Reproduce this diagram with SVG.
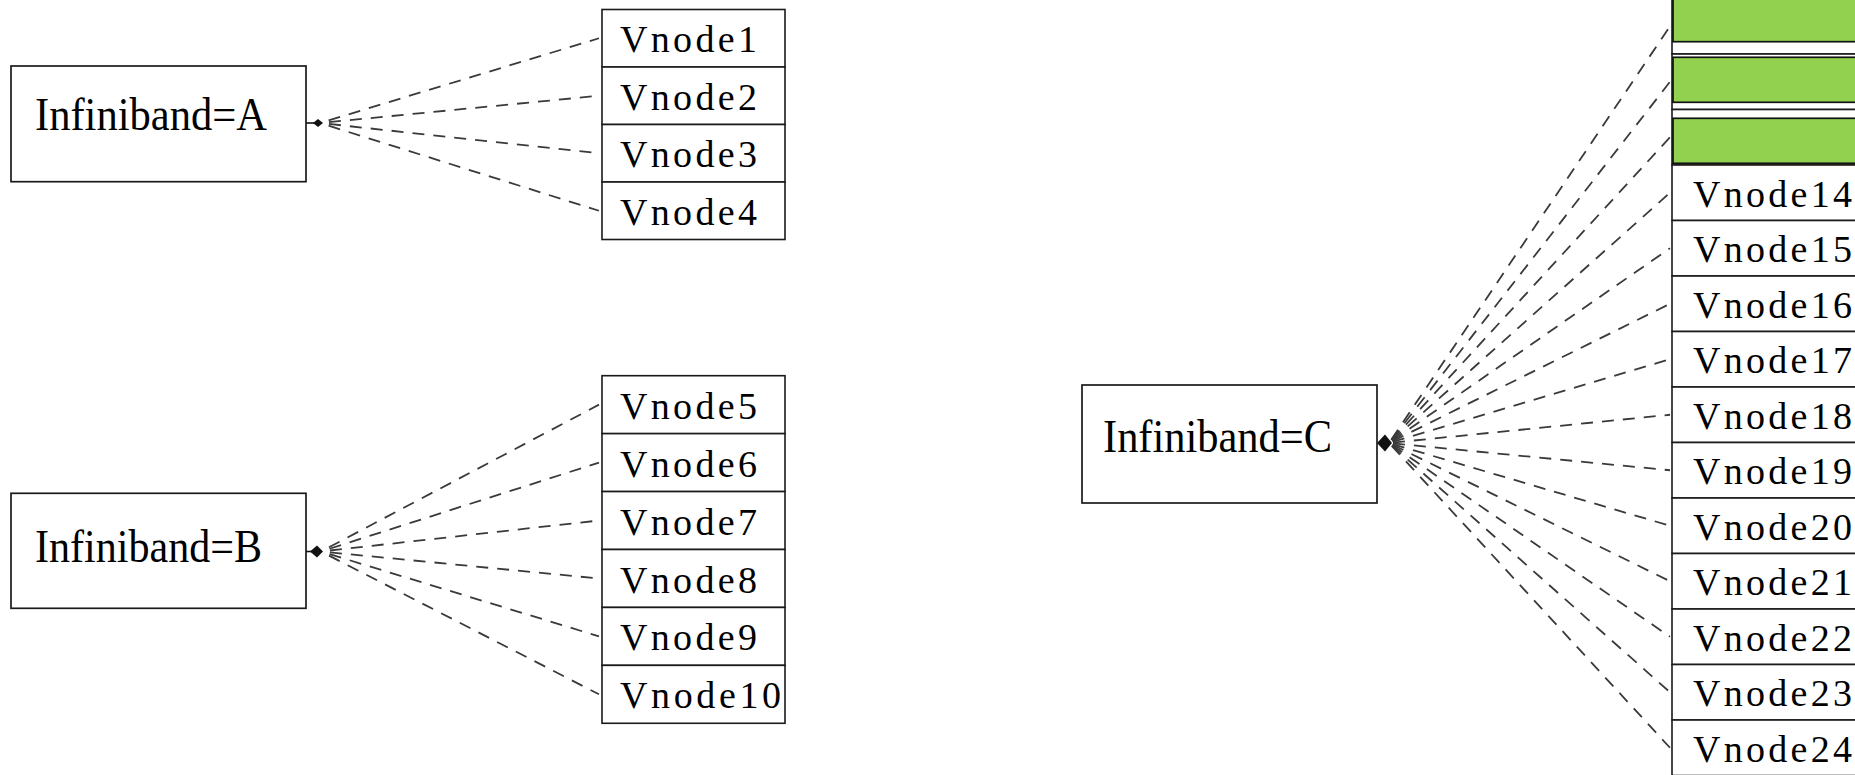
<svg xmlns="http://www.w3.org/2000/svg" width="1855" height="775" viewBox="0 0 1855 775">
<style>
.box{fill:#fff;stroke:#1a1a1a;stroke-width:1.7}
.cell{fill:#fff;stroke:#1a1a1a;stroke-width:1.6}
.green{fill:#92d050;stroke:#111;stroke-width:1.7}
.ib{font-family:"Liberation Serif","Times New Roman",serif;font-size:46px;fill:#000}
.vn{font-family:"Liberation Serif","Times New Roman",serif;font-size:38px;fill:#000}
.edge{fill:none;stroke:#3a3a3a;stroke-width:1.8;stroke-dasharray:12 9;stroke-dashoffset:12}
.edgec{fill:none;stroke:#3a3a3a;stroke-width:1.8;stroke-dasharray:12 9;stroke-dashoffset:17}
.tail{fill:none;stroke:#111;stroke-width:1.6}
.blob{fill:#111;stroke:none}
</style>
<rect width="1855" height="775" fill="#fff"/>

<g id="connectors">
  <g id="edges-A">
    <line class="tail" x1="306" y1="123" x2="315" y2="123"/>
    <polygon class="blob" points="313,123 318,119 323,123 318,127"/>
    <line class="edge" x1="320" y1="123" x2="599" y2="38.25"/>
    <line class="edge" x1="320" y1="123" x2="599" y2="95.75"/>
    <line class="edge" x1="320" y1="123" x2="599" y2="153.25"/>
    <line class="edge" x1="320" y1="123" x2="599" y2="210.75"/>
  </g>
  <g id="edges-B">
    <line class="tail" x1="306" y1="551.5" x2="312" y2="551.5"/>
    <polygon class="blob" points="310,551.5 317,545.5 323,551.5 317,557.5"/>
    <line class="edge" x1="321" y1="551.5" x2="599" y2="404.67"/>
    <line class="edge" x1="321" y1="551.5" x2="599" y2="462.6"/>
    <line class="edge" x1="321" y1="551.5" x2="599" y2="520.5"/>
    <line class="edge" x1="321" y1="551.5" x2="599" y2="578.5"/>
    <line class="edge" x1="321" y1="551.5" x2="599" y2="636.4"/>
    <line class="edge" x1="321" y1="551.5" x2="599" y2="694.3"/>
  </g>
  <g id="edges-C">
    <polygon class="blob" points="1377,443 1385,434.5 1392,443 1385,451.5"/>
    <line class="edgec" x1="1389" y1="443" x2="1670" y2="26.25"/>
    <line class="edgec" x1="1389" y1="443" x2="1670" y2="81.75"/>
    <line class="edgec" x1="1389" y1="443" x2="1670" y2="137.25"/>
    <line class="edgec" x1="1389" y1="443" x2="1670" y2="192.75"/>
    <line class="edgec" x1="1389" y1="443" x2="1670" y2="248.25"/>
    <line class="edgec" x1="1389" y1="443" x2="1670" y2="303.75"/>
    <line class="edgec" x1="1389" y1="443" x2="1670" y2="359.25"/>
    <line class="edgec" x1="1389" y1="443" x2="1670" y2="414.75"/>
    <line class="edgec" x1="1389" y1="443" x2="1670" y2="470.25"/>
    <line class="edgec" x1="1389" y1="443" x2="1670" y2="525.75"/>
    <line class="edgec" x1="1389" y1="443" x2="1670" y2="581.25"/>
    <line class="edgec" x1="1389" y1="443" x2="1670" y2="636.75"/>
    <line class="edgec" x1="1389" y1="443" x2="1670" y2="692.25"/>
    <line class="edgec" x1="1389" y1="443" x2="1670" y2="747.75"/>
  </g>
</g>

<g id="infiniband-A">
  <rect class="box" x="11" y="66" width="295" height="115.7"/>
  <text class="ib" x="35" y="130" textLength="232" lengthAdjust="spacingAndGlyphs">Infiniband=A</text>
</g>
<g id="infiniband-B">
  <rect class="box" x="11" y="493.3" width="295" height="115"/>
  <text class="ib" x="35" y="561.5" textLength="227" lengthAdjust="spacingAndGlyphs">Infiniband=B</text>
</g>
<g id="infiniband-C">
  <rect class="box" x="1082" y="385" width="295" height="118"/>
  <text class="ib" x="1103" y="451.5" textLength="229" lengthAdjust="spacingAndGlyphs">Infiniband=C</text>
</g>

<g id="vnode1"><rect class="cell" x="602" y="9.5" width="183" height="57.5"/><text class="vn" x="620" y="52.25" textLength="137">Vnode1</text></g>
<g id="vnode2"><rect class="cell" x="602" y="67" width="183" height="57.5"/><text class="vn" x="620" y="109.75" textLength="137">Vnode2</text></g>
<g id="vnode3"><rect class="cell" x="602" y="124.5" width="183" height="57.5"/><text class="vn" x="620" y="167.25" textLength="137">Vnode3</text></g>
<g id="vnode4"><rect class="cell" x="602" y="182" width="183" height="57.5"/><text class="vn" x="620" y="224.75" textLength="137">Vnode4</text></g>

<g id="vnode5"><rect class="cell" x="602" y="375.7" width="183" height="57.93"/><text class="vn" x="620" y="418.67" textLength="137">Vnode5</text></g>
<g id="vnode6"><rect class="cell" x="602" y="433.63" width="183" height="57.93"/><text class="vn" x="620" y="476.6" textLength="137">Vnode6</text></g>
<g id="vnode7"><rect class="cell" x="602" y="491.56" width="183" height="57.93"/><text class="vn" x="620" y="534.5" textLength="137">Vnode7</text></g>
<g id="vnode8"><rect class="cell" x="602" y="549.49" width="183" height="57.93"/><text class="vn" x="620" y="592.5" textLength="137">Vnode8</text></g>
<g id="vnode9"><rect class="cell" x="602" y="607.42" width="183" height="57.93"/><text class="vn" x="620" y="650.4" textLength="137">Vnode9</text></g>
<g id="vnode10"><rect class="cell" x="602" y="665.35" width="183" height="57.93"/><text class="vn" x="620" y="708.3" textLength="161">Vnode10</text></g>

<g id="vnode11"><rect class="cell" x="1672" y="-1.5" width="200" height="55.5"/><rect class="green" x="1673" y="-3" width="200" height="44.7"/></g>
<g id="vnode12"><rect class="cell" x="1672" y="54" width="200" height="55.5"/><rect class="green" x="1673" y="57.3" width="200" height="45"/></g>
<g id="vnode13"><rect class="cell" x="1672" y="109.5" width="200" height="55.5"/><rect class="green" x="1673" y="118.3" width="200" height="45"/></g>
<g id="vnode14"><rect class="cell" x="1672" y="165" width="200" height="55.5"/><text class="vn" x="1693" y="206.75" textLength="159">Vnode14</text></g>
<g id="vnode15"><rect class="cell" x="1672" y="220.5" width="200" height="55.5"/><text class="vn" x="1693" y="262.25" textLength="159">Vnode15</text></g>
<g id="vnode16"><rect class="cell" x="1672" y="276" width="200" height="55.5"/><text class="vn" x="1693" y="317.75" textLength="159">Vnode16</text></g>
<g id="vnode17"><rect class="cell" x="1672" y="331.5" width="200" height="55.5"/><text class="vn" x="1693" y="373.25" textLength="159">Vnode17</text></g>
<g id="vnode18"><rect class="cell" x="1672" y="387" width="200" height="55.5"/><text class="vn" x="1693" y="428.75" textLength="159">Vnode18</text></g>
<g id="vnode19"><rect class="cell" x="1672" y="442.5" width="200" height="55.5"/><text class="vn" x="1693" y="484.25" textLength="159">Vnode19</text></g>
<g id="vnode20"><rect class="cell" x="1672" y="498" width="200" height="55.5"/><text class="vn" x="1693" y="539.75" textLength="159">Vnode20</text></g>
<g id="vnode21"><rect class="cell" x="1672" y="553.5" width="200" height="55.5"/><text class="vn" x="1693" y="595.25" textLength="159">Vnode21</text></g>
<g id="vnode22"><rect class="cell" x="1672" y="609" width="200" height="55.5"/><text class="vn" x="1693" y="650.75" textLength="159">Vnode22</text></g>
<g id="vnode23"><rect class="cell" x="1672" y="664.5" width="200" height="55.5"/><text class="vn" x="1693" y="706.25" textLength="159">Vnode23</text></g>
<g id="vnode24"><rect class="cell" x="1672" y="720" width="200" height="55.5"/><text class="vn" x="1693" y="761.75" textLength="159">Vnode24</text></g>
</svg>
